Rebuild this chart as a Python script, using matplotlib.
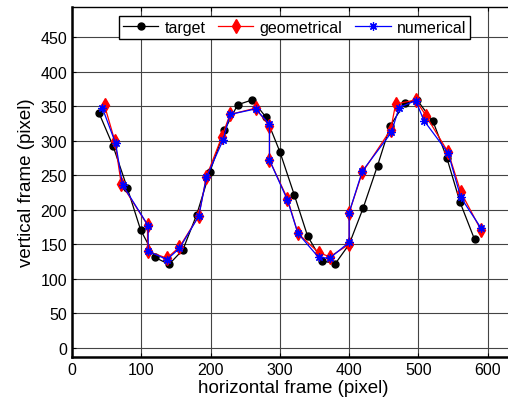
import matplotlib
matplotlib.use("Agg")
import matplotlib.pyplot as plt
import numpy as np

plt.rcParams['font.family'] = ['Liberation Sans', 'DejaVu Sans']

# target trajectory
target_x = [39, 59, 80, 99, 120, 140, 160, 180, 199, 220, 239, 260, 280, 300,
            321, 340, 361, 380, 400, 420, 441, 459, 480, 498, 521, 541, 560, 581]
target_y = [340, 293, 231, 171, 131, 121, 142, 193, 255, 315, 352, 359, 334, 284,
            221, 162, 126, 122, 150, 202, 264, 321, 354, 359, 328, 275, 211, 157]

# geometrical estimate
geo_x = [47, 62, 71, 109, 109, 137, 155, 183, 194, 216, 228, 265, 285, 285,
         311, 326, 356, 372, 400, 400, 419, 460, 467, 496, 511, 543, 561, 590]
geo_y = [351, 299, 238, 178, 140, 130, 146, 191, 248, 305, 338, 347, 321, 272,
         216, 166, 138, 132, 150, 196, 254, 316, 353, 359, 336, 283, 226, 171]

# numerical estimate
num_x = [44, 63, 73, 110, 110, 137, 155, 183, 194, 218, 228, 265, 285, 285,
         311, 326, 356, 372, 400, 400, 419, 461, 472, 496, 508, 543, 561, 590]
num_y = [347, 296, 236, 177, 140, 128, 144, 191, 247, 301, 338, 346, 324, 272,
         214, 166, 131, 130, 153, 196, 256, 312, 348, 358, 329, 282, 218, 174]

fig = plt.figure(figsize=(5.08, 4.02), dpi=100)
ax = fig.add_axes([0.1417, 0.1087, 0.873, 0.8714])

ax.plot(target_x, target_y, '-o', color='black', lw=0.9, markersize=5, label='target')
ax.plot(geo_x, geo_y, '-d', color='red', lw=0.9, markersize=7, label='geometrical')
ax.plot(num_x, num_y, '-', marker=(8, 2, 0), color='blue', lw=0.9, markersize=6,
        markeredgewidth=0.9, label='numerical')

ax.set_xlim(0, 640)
ax.set_ylim(-13.5, 493.5)
ax.set_xticks(np.arange(0, 601, 100))
ax.set_yticks(np.arange(0, 451, 50))
ax.grid(True, color='#444444', lw=0.8)
ax.set_axisbelow(True)
ax.tick_params(direction='in', labelsize=11.5, length=3, top=True, right=True)

for s in ['left', 'bottom']:
    ax.spines[s].set_linewidth(1.8)
ax.spines['top'].set_linewidth(1.0)

ax.set_xlabel('horizontal frame (pixel)', fontsize=13.5, labelpad=1)
ax.set_ylabel('vertical frame (pixel)', fontsize=13.5, labelpad=4)

leg = ax.legend(ncol=3, loc='center', bbox_to_anchor=(0.58, 0.929),
                bbox_transform=fig.transFigure, fontsize=11.5, fancybox=False,
                edgecolor='black', framealpha=1, handlelength=2.2,
                columnspacing=0.8, handletextpad=0.4, borderpad=0.25,
                borderaxespad=0)
leg.get_frame().set_linewidth(1.0)

fig.savefig('out.png', dpi=100)
